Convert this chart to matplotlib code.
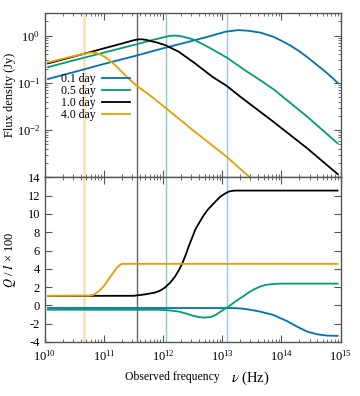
import numpy as np
import matplotlib
matplotlib.use("Agg")
import matplotlib.pyplot as plt
from matplotlib.ticker import LogLocator, NullFormatter, MultipleLocator

plt.rcParams['font.family'] = ['Liberation Serif', 'DejaVu Serif']
plt.rcParams['mathtext.fontset'] = 'stix'
plt.rcParams['axes.unicode_minus'] = False

# -----------------------------
# Data (log10 of frequency in Hz)
# -----------------------------
labels = ["0.1 day", "0.5 day", "1.0 day", "4.0 day"]
colors = ["#0072B2", "#009E73", "#000000", "#E69F00"]

# Flux density, log10(Jy)
lognu_f01 = [10.05, 10.5, 11.0, 11.5, 12.0, 12.5, 12.8, 13.05, 13.27, 13.45, 13.65, 13.87, 14.0, 14.15, 14.3, 14.44, 14.58, 14.72, 14.85, 14.95]
logF_01 = [-0.92, -0.77, -0.60, -0.44, -0.27, -0.11, -0.01, 0.08, 0.115, 0.10, 0.06, -0.03, -0.11, -0.21, -0.33, -0.46, -0.60, -0.74, -0.88, -1.0]

lognu_f05 = [10.05, 10.5, 11.0, 11.5, 11.8, 12.0, 12.1, 12.19, 12.28, 12.35, 12.45, 12.54, 12.8, 13.08, 13.39, 13.6, 13.87, 14.44, 14.95]
logF_05 = [-0.67, -0.52, -0.36, -0.20, -0.10, -0.04, -0.01, 0.0, -0.01, -0.03, -0.06, -0.10, -0.27, -0.47, -0.74, -0.91, -1.14, -1.72, -2.28]

lognu_f10 = [10.05, 10.5, 11.0, 11.3, 11.5, 11.58, 11.65, 11.72, 11.8, 11.9, 12.03, 12.26, 12.54, 12.83, 13.08, 13.3, 13.87, 14.44, 14.95]
logF_10 = [-0.59, -0.44, -0.27, -0.17, -0.10, -0.08, -0.08, -0.095, -0.12, -0.15, -0.20, -0.34, -0.59, -0.87, -1.07, -1.29, -1.83, -2.39, -2.93]

lognu_f40 = [10.05, 10.4, 10.65, 10.75, 10.82, 10.89, 10.95, 11.05, 11.2, 11.38, 11.55, 11.78, 12.03, 12.54, 13.08, 13.39, 13.5]
logF_40 = [-0.57, -0.46, -0.39, -0.365, -0.36, -0.38, -0.41, -0.48, -0.64, -0.87, -1.06, -1.27, -1.52, -2.04, -2.57, -2.92, -3.03]

# Q / I x 100
lognu_q01 = [10.05, 13.2, 13.3, 13.45, 13.64, 13.86, 14.09, 14.26, 14.43, 14.60, 14.77, 14.95]
q_01 = [-0.28, -0.29, -0.33, -0.45, -0.68, -1.04, -1.70, -2.30, -2.85, -3.15, -3.30, -3.33]

lognu_q05 = [10.05, 11.95, 12.1, 12.26, 12.38, 12.49, 12.6, 12.69, 12.77, 12.83, 12.9, 12.97, 13.08, 13.22, 13.39, 13.47, 13.56, 13.64, 13.72, 13.81, 13.92, 14.03, 14.95]
q_05 = [-0.47, -0.48, -0.54, -0.67, -0.88, -1.11, -1.27, -1.33, -1.30, -1.22, -1.0, -0.68, -0.24, 0.42, 1.15, 1.51, 1.82, 2.06, 2.22, 2.31, 2.36, 2.38, 2.38]

lognu_q10 = [10.05, 11.5, 11.69, 11.86, 11.95, 12.03, 12.12, 12.2, 12.26, 12.32, 12.38, 12.43, 12.49, 12.54, 12.62, 12.69, 12.76, 12.83, 12.9, 12.97, 13.04, 13.11, 13.17, 13.22, 14.95]
q_10 = [1.04, 1.05, 1.2, 1.4, 1.62, 1.95, 2.5, 3.15, 3.8, 4.54, 5.5, 6.43, 7.4, 8.25, 9.15, 9.9, 10.5, 10.98, 11.45, 11.9, 12.2, 12.44, 12.52, 12.55, 12.55]

lognu_q40 = [10.05, 10.76, 10.81, 10.85, 10.92, 10.99, 11.1, 11.21, 11.27, 11.3, 14.95]
q_40 = [1.04, 1.07, 1.14, 1.26, 1.6, 2.06, 3.08, 4.06, 4.42, 4.54, 4.54]

# Vertical marker frequencies (log10 Hz)
lognu_marks = [13.08, 12.045, 11.565, 10.66]

flux_series = [(lognu_f01, logF_01), (lognu_f05, logF_05), (lognu_f10, logF_10), (lognu_f40, logF_40)]
pol_series = [(lognu_q01, q_01), (lognu_q05, q_05), (lognu_q10, q_10), (lognu_q40, q_40)]

# -----------------------------
# Plot
# -----------------------------
fig = plt.figure(figsize=(3.6, 3.96), dpi=100, facecolor="white")
left, width = 45 / 360, 295.5 / 360
ax1 = fig.add_axes([left, 1 - 177.3 / 396, width, 164.3 / 396])
ax2 = fig.add_axes([left, 1 - 342 / 396, width, 164.7 / 396])

for lab, col, (lx, ly) in zip(labels, colors, flux_series):
    ax1.plot(10 ** np.array(lx), 10 ** np.array(ly), color=col, lw=1.3, label=lab)

for col, (lx, q) in zip(colors, pol_series):
    ax2.plot(10 ** np.array(lx), q, color=col, lw=1.3)

vline_alpha = {"#0072B2": 0.4, "#009E73": 0.5, "#000000": 0.6, "#E69F00": 0.3}
for ax in (ax1, ax2):
    for col, m in zip(colors, lognu_marks):
        lw = 1.8 if col == "#E69F00" else 1.0
        ax.axvline(10 ** m, color=col, lw=lw, alpha=vline_alpha[col], zorder=0)

    ax.set_xscale("log")
    ax.set_xlim(1e10, 1e15)
    ax.xaxis.set_major_locator(LogLocator(base=10, numticks=10))
    ax.xaxis.set_minor_locator(LogLocator(base=10, subs=np.arange(2, 10), numticks=20))
    ax.xaxis.set_minor_formatter(NullFormatter())
    ax.tick_params(which="both", direction="in", top=True, right=True,
                   labelsize=9, color="#555555")
    ax.tick_params(which="major", length=5, width=0.8)
    ax.tick_params(which="minor", length=2.5, width=0.6)
    ax.tick_params(axis="x", pad=5)
    for s in ax.spines.values():
        s.set_color("#555555")
        s.set_linewidth(1.0)

# top panel
ax1.set_yscale("log")
ax1.set_ylim(1e-3, 3)
ax1.set_yticks([1e-2, 1e-1, 1e0])
ax1.yaxis.set_minor_locator(LogLocator(base=10, subs=np.arange(2, 10), numticks=20))
ax1.yaxis.set_minor_formatter(NullFormatter())
ax1.tick_params(labelbottom=False)
ax1.set_ylabel("Flux density (Jy)", fontsize=9)
ax1.yaxis.set_label_coords(-0.098, 0.5)

ax1.legend(loc="upper left", bbox_to_anchor=(0.055, 0.633), frameon=False,
           markerfirst=False, fontsize=8.5, handlelength=2.4, handletextpad=0.5,
           labelspacing=0.0, borderpad=0, borderaxespad=0)

# bottom panel
ax2.set_ylim(-4, 14)
ax2.yaxis.set_major_locator(MultipleLocator(2))
ax2.set_ylabel(r"$Q$ / $I$ × 100", fontsize=9)
ax2.yaxis.set_label_coords(-0.09, 0.5)

fig.text(125 / 360, 1 - 377 / 396, "Observed frequency", fontsize=8.5, va="center", ha="left")
fig.text(231 / 360, 1 - 378 / 396, r"$\nu$ (Hz)", fontsize=10.5, va="center", ha="left")

plt.savefig("out.png", dpi=100)
